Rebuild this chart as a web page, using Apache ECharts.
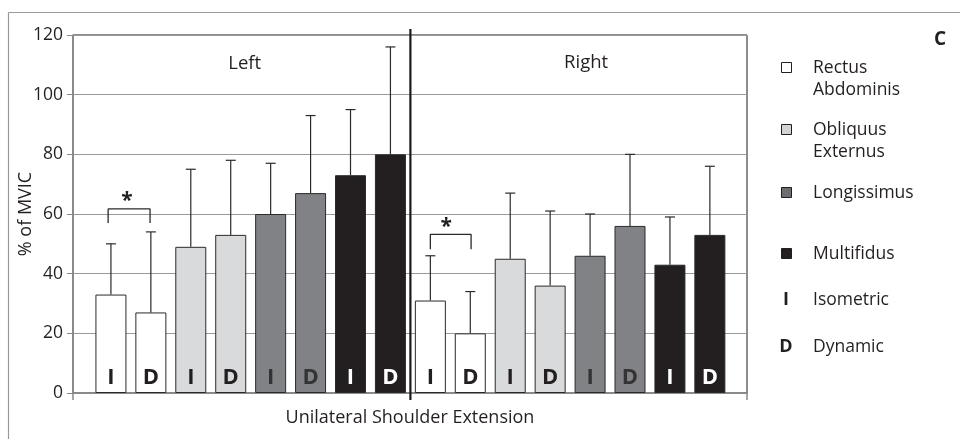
<!DOCTYPE html>
<html>
<head>
<meta charset="utf-8">
<script src="https://cdn.jsdelivr.net/npm/echarts@6/dist/echarts.min.js"></script>
<style>html,body{margin:0;padding:0;background:#fff;}#c{width:960px;height:439px;}</style>
</head>
<body>
<div id="c"></div>
<script>
// ---- data ----
const muscles = ['Rectus Abdominis', 'Obliquus Externus', 'Longissimus', 'Multifidus'];
const conditions = ['I', 'D'];
const sides = ['Left', 'Right'];
const leftMeans = [33, 27, 49, 53, 60, 67, 73, 80];
const leftUpper = [50, 54, 75, 78, 77, 93, 95, 116];
const rightMeans = [31, 20, 45, 36, 46, 56, 43, 53];
const rightUpper = [46, 34, 67, 61, 60, 80, 59, 76];
const yTicks = [0, 20, 40, 60, 80, 100, 120];
const sigBracketLeft = [[-0.07, 57], [-0.07, 61.7], [0.98, 61.7], [0.98, 57]];
const sigBracketRight = [[8, 48.2], [8, 53.2], [9.02, 53.2], [9.02, 48.2]];
const sigStars = [[0.4, 64.5], [8.4, 55.7]];
const sideLabelPos = [[3.35, 110.3], [11.9, 110.8]];

// ---- style ----
const FONT = 'Open Sans';
const INK = '#231f20';
const muscleFill = ['#ffffff', '#d9dadc', '#808285', '#231f20'];
const letterColor = ['#231f20', '#231f20', '#333333', '#ffffff'];
const legendSwatch = ['#ffffff', '#d2d3d5', '#6d6e71', '#231f20'];

const means = leftMeans.concat(rightMeans);
const uppers = leftUpper.concat(rightUpper);
const barData = means.map((v, i) => {
  const m = Math.floor((i % 8) / 2);
  return {
    value: [i, v],
    itemStyle: { color: muscleFill[m], borderColor: '#2a2a2a', borderWidth: 1 },
    label: { formatter: conditions[i % 2], color: letterColor[m] }
  };
});
const errData = means.map((v, i) => [i, v, uppers[i]]);

const chart = echarts.init(document.getElementById('c'), null, { renderer: 'canvas' });

const legendItems = [];
const legendRows = [
  { y: 68, lines: ['Rectus', 'Abdominis'], sw: 0 },
  { y: 130, lines: ['Obliquus', 'Externus'], sw: 1 },
  { y: 193, lines: ['Longissimus'], sw: 2 },
  { y: 254, lines: ['Multifidus'], sw: 3 }
];
legendRows.forEach(r => {
  legendItems.push({
    type: 'rect', shape: { x: 781.5, y: r.y - 5.5, width: 10, height: 10 },
    style: { fill: legendSwatch[r.sw], stroke: INK, lineWidth: 1 }
  });
  legendItems.push({
    type: 'text', x: 813, y: r.y - 11,
    style: { text: r.lines.join('\n'), font: '17.5px "' + FONT + '"', fill: INK, verticalAlign: 'top', lineHeight: 22 }
  });
});
[['I', 'Isometric', 300], ['D', 'Dynamic', 347]].forEach(a => {
  legendItems.push({
    type: 'text', x: 786, y: a[2],
    style: { text: a[0], font: 'bold 18px "' + FONT + '"', fill: INK, align: 'center', verticalAlign: 'middle' }
  });
  legendItems.push({
    type: 'text', x: 813, y: a[2],
    style: { text: a[1], font: '17.5px "' + FONT + '"', fill: INK, verticalAlign: 'middle' }
  });
});

function textAt(fontStr) {
  return function (params, api) {
    const p = api.coord([api.value(0), api.value(1)]);
    return {
      type: 'text', x: p[0], y: p[1],
      style: { text: api.value(2), font: fontStr, fill: INK, align: 'center', verticalAlign: 'middle' }
    };
  };
}

chart.setOption({
  animation: false,
  backgroundColor: '#fff',
  textStyle: { fontFamily: FONT },
  grid: { left: 73, right: 213, top: 35, bottom: 46, show: true, borderColor: '#1a1a1a', borderWidth: 1 },
  xAxis: {
    type: 'value', min: -0.95, max: 15.93,
    name: 'Unilateral Shoulder Extension', nameLocation: 'middle', nameGap: 16,
    nameTextStyle: { fontSize: 18, color: INK, fontFamily: FONT },
    axisLine: { show: true, onZero: false, lineStyle: { color: '#888', width: 1.5 } },
    axisTick: { show: false }, axisLabel: { show: false }, splitLine: { show: false }
  },
  yAxis: {
    type: 'value', min: 0, max: 120, interval: 20,
    name: '% of MVIC', nameLocation: 'middle', nameGap: 38, nameRotate: 90, nameMoveOverlap: false,
    nameTextStyle: { fontSize: 18, color: INK, fontFamily: FONT },
    axisLine: { show: true, onZero: false, lineStyle: { color: '#888', width: 1.5 } },
    axisTick: { show: true, length: 6, lineStyle: { color: '#888' } },
    axisLabel: { fontSize: 17.5, color: INK, margin: 10, fontFamily: FONT,
      formatter: v => yTicks.indexOf(v) >= 0 ? String(v) : '' },
    splitLine: { show: true, lineStyle: { color: '#9a9a9a', width: 1.2 } }
  },
  graphic: [
    { type: 'line', shape: { x1: 8.5, y1: 12.5, x2: 8.5, y2: 439 }, style: { stroke: '#999', lineWidth: 1.2 } },
    { type: 'line', shape: { x1: 8.5, y1: 12.5, x2: 960, y2: 12.5 }, style: { stroke: '#999', lineWidth: 1.2 } },
    { type: 'text', x: 940, y: 40, style: { text: 'C', font: 'bold 19px "' + FONT + '"', fill: INK, align: 'center', verticalAlign: 'middle' } }
  ].concat(legendItems),
  series: [
    {
      type: 'bar', data: barData, barWidth: 31, z: 2,
      label: { show: true, position: 'insideBottom', distance: 4, fontSize: 22, fontWeight: 'bold', fontFamily: FONT }
    },
    {
      type: 'custom', data: errData, z: 3,
      renderItem: function (params, api) {
        const p1 = api.coord([api.value(0), api.value(1)]);
        const p2 = api.coord([api.value(0), api.value(2)]);
        const st = { stroke: '#2a2a2a', lineWidth: 1.2 };
        return { type: 'group', children: [
          { type: 'line', shape: { x1: p1[0], y1: p1[1], x2: p2[0], y2: p2[1] }, style: st },
          { type: 'line', shape: { x1: p2[0] - 5, y1: p2[1], x2: p2[0] + 5, y2: p2[1] }, style: st }
        ] };
      }
    },
    {
      type: 'custom', data: [[7.5, 120, 0]], z: 4, clip: false,
      renderItem: function (params, api) {
        const a = api.coord([api.value(0), api.value(1)]);
        const b = api.coord([api.value(0), api.value(2)]);
        const l = api.coord([-0.95, 0]);
        const r = api.coord([15.93, 0]);
        return { type: 'group', children: [
          { type: 'line', shape: { x1: a[0], y1: a[1] - 6, x2: b[0], y2: b[1] + 7 }, style: { stroke: '#1a1a1a', lineWidth: 2.2 } },
          { type: 'line', shape: { x1: l[0], y1: l[1], x2: l[0], y2: l[1] + 7 }, style: { stroke: '#888', lineWidth: 1.5 } },
          { type: 'line', shape: { x1: r[0], y1: r[1], x2: r[0], y2: r[1] + 7 }, style: { stroke: '#888', lineWidth: 1.5 } }
        ] };
      }
    },
    { type: 'line', data: sigBracketLeft, symbol: 'none', lineStyle: { color: '#2a2a2a', width: 1.3 }, z: 3 },
    { type: 'line', data: sigBracketRight, symbol: 'none', lineStyle: { color: '#2a2a2a', width: 1.3 }, z: 3 },
    {
      type: 'custom', data: sigStars.map(p => [p[0], p[1], '*']), z: 5,
      dimensions: ['x', 'y', { name: 't', type: 'ordinal' }],
      renderItem: textAt('bold 21px "' + FONT + '"')
    },
    {
      type: 'custom', data: sideLabelPos.map((p, i) => [p[0], p[1], sides[i]]), z: 5,
      dimensions: ['x', 'y', { name: 't', type: 'ordinal' }],
      renderItem: textAt('18.5px "' + FONT + '"')
    }
  ]
});
</script>
</body>
</html>
